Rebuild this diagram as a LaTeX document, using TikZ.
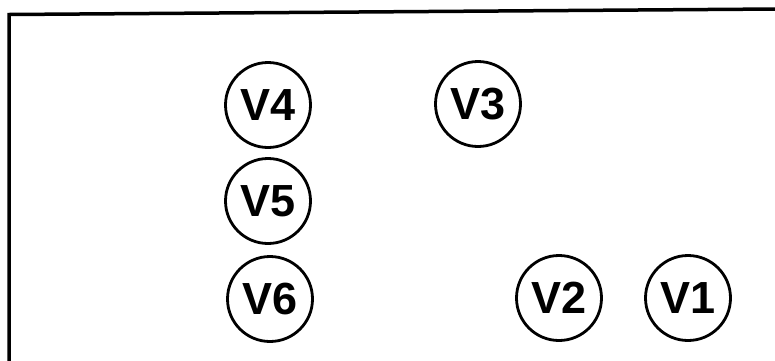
\documentclass[tikz,border=0pt]{standalone}
\usepackage{fontspec}
\setmainfont{Liberation Sans}
\begin{document}
\begin{tikzpicture}[x=1pt,y=-1pt,
  vnode/.style={circle,draw=black,line width=2.8pt,minimum size=85pt,inner sep=0pt,
    font=\fontsize{45}{45}\selectfont\bfseries}]
\useasboundingbox (0,0) rectangle (775,360);
\fill[white] (0,0) rectangle (775,360);
\draw[line width=3.5pt] (9,362) -- (9,14.5) -- (777,9);
\node[vnode] (v4) at (268,105) {V4};
\node[vnode] (v3) at (478,104) {V3};
\node[vnode] (v5) at (268,201) {V5};
\node[vnode] (v6) at (270,299) {V6};
\node[vnode] (v2) at (559,298) {V2};
\node[vnode] (v1) at (688,298) {V1};
\end{tikzpicture}
\end{document}
